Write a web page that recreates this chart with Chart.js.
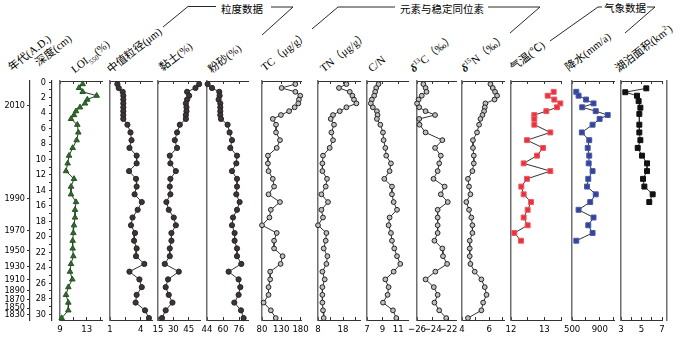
<!DOCTYPE html>
<html lang="zh">
<head>
<meta charset="UTF-8">
<title>沉积物多指标综合图</title>
<script src="https://cdn.jsdelivr.net/npm/chart.js@4"></script>
<style>
body { margin: 0; background: #fff; }
#wrap { position: relative; width: 700px; height: 339px; overflow: hidden; background: #fff; }
#wrap canvas { position: absolute; }
.hdr { position: absolute; white-space: nowrap; font-family: "Liberation Serif", "Noto Sans CJK SC", serif; font-size: 11px; line-height: 12px; transform-origin: 0 100%; transform: rotate(-38deg); color: #000; }
.hdr sub, .hdr sup { font-size: 7px; line-height: 0; }
.grp { position: absolute; white-space: nowrap; font-family: "Noto Sans CJK SC", sans-serif; font-size: 10.5px; line-height: 12px; color: #000; }
#lines { position: absolute; left: 0; top: 0; }
</style>
</head>
<body>
<div id="wrap">
  <svg id="lines" width="700" height="339">
    <g fill="none" stroke="#111" stroke-width="0.9">
      <polyline points="163,27 188,6.5 216,6.5"/>
      <polyline points="271,7 293,7 262,35"/>
      <polyline points="312,29 338,7 395,7"/>
      <polyline points="488,7 540,7 510,33"/>
      <polyline points="550,41 598,7 602,7"/>
      <polyline points="647,7 655,7 625,33"/>
    </g>
  </svg>
  <div class="grp" style="left:221px;top:3px">粒度数据</div>
  <div class="grp" style="left:400px;top:3px">元素与稳定同位素</div>
  <div class="grp" style="left:604px;top:2px">气象数据</div>

  <div class="hdr" style="left:13px;top:61px">年代(A.D.)</div>
  <div class="hdr" style="left:40px;top:56px">深度(cm)</div>
  <div class="hdr" style="left:76px;top:63px">LOI<sub>550</sub>(%)</div>
  <div class="hdr" style="left:112px;top:63px">中值粒径(μm)</div>
  <div class="hdr" style="left:164px;top:61px">黏土(%)</div>
  <div class="hdr" style="left:213px;top:63px">粉砂(%)</div>
  <div class="hdr" style="left:266px;top:61px">TC（μg/g）</div>
  <div class="hdr" style="left:325px;top:62px">TN（μg/g）</div>
  <div class="hdr" style="left:373px;top:62px">C/N</div>
  <div class="hdr" style="left:415px;top:62px"><i><b>δ</b></i><sup>13</sup>C（‰）</div>
  <div class="hdr" style="left:466px;top:62px"><i><b>δ</b></i><sup>15</sup>N（‰）</div>
  <div class="hdr" style="left:515px;top:61px">气温(℃)</div>
  <div class="hdr" style="left:570px;top:61px">降水(mm/a)</div>
  <div class="hdr" style="left:620px;top:62px">湖泊面积(km<sup>2</sup>)</div>
</div>

<script>
// 采样深度 (cm)
const depth = [0.25, 0.75, 1.25, 1.75, 2.25, 2.75, 3.25, 3.75, 4.25, 4.75,
  5.5, 6.5, 7.5, 8.5, 9.5, 10.5, 11.5, 12.5, 13.5, 14.5, 15.5, 16.5, 17.5, 18.5,
  19.5, 20.5, 21.5, 22.5, 23.5, 24.5, 25.5, 26.5, 27.5, 28.5, 29.5, 30.5];

// 气象数据对应深度
const metDepth = [1.25, 1.75, 2.25, 2.75, 3.25, 3.75, 4.25, 4.75, 5.5, 6.5, 7.5, 8.5,
  9.5, 10.5, 11.5, 12.5, 13.5, 14.5, 15.5, 16.5, 17.5, 18.5, 19.5, 20.5];
const lakeDepth = [0.8, 1.3, 1.75, 2.45, 3.3, 4.1, 5.5, 6.5, 7.5, 8.5, 9.5, 10.5,
  11.5, 12.5, 13.5, 14.5, 15.5];

// 年代标尺
const yearLabels = ['2010', '1990', '1970', '1950', '1930', '1910', '1890', '1870', '1850', '1830'];
const yearDepth = [3.0, 15.0, 19.15, 21.75, 23.8, 25.55, 26.9, 28.15, 29.2, 30.0];
const depthTicks = [0, 1, 2, 3, 4, 5, 6, 7, 8, 9, 10, 11, 12, 13, 14, 15, 16, 17, 18, 19,
  20, 21, 22, 23, 24, 25, 26, 27, 28, 29, 30];

// 指标数据
const loi = [12.4, 11.85, 12.4, 14.5, 13.1, 12.75, 12.0, 11.4, 11.1, 10.65,
  11.6, 11.75, 11.5, 10.9, 10.35, 10.15, 9.9, 11.1, 10.65, 10.65, 11.4, 11.25, 11.25,
  11.1, 11.0, 10.9, 10.9, 11.0, 10.65, 10.5, 10.85, 10.25, 9.9, 10.25, 10.25, 9.25];
const median = [1.72, 1.85, 2.24, 2.3, 2.3, 2.3, 2.3, 2.3, 2.3, 2.3,
  2.7, 3.0, 3.1, 2.9, 3.6, 3.6, 2.86, 3.54, 3.6, 3.4, 4.1, 3.7, 3.2, 3.05, 3.44, 3.35,
  3.6, 3.54, 4.35, 2.9, 3.87, 4.1, 3.6, 3.5, 4.42, 4.8];
const clay = [55.2, 51.6, 43.4, 45.4, 43.4, 42.2, 42.8, 42.8, 42.2, 42.2,
  36.3, 33.6, 31.4, 33.6, 26.5, 27.1, 32.4, 27.1, 26.5, 27.1, 23.2, 25.5, 30.4, 32.4,
  28.1, 28.1, 26.5, 26.5, 21.6, 35.3, 24.8, 22.5, 25.5, 29.1, 22.5, 18.9];
const silt = [44.6, 49, 56.3, 56.6, 55.6, 57.3, 57.3, 57.3, 57.3, 58,
  64.6, 66.6, 69, 67.3, 74, 73.3, 69, 74, 74, 73.3, 76.6, 74, 70, 69, 71.6, 71.6,
  74, 74, 78.3, 65.6, 75.6, 77.3, 75.6, 71.3, 78, 80.6];
const tc = [166.5, 130.9, 166.5, 179.2, 175.8, 174.1, 164.7, 150.3, 129.1, 108,
  116.4, 116.4, 126.6, 118.2, 95.3, 95.3, 96.9, 108, 111.3, 96.9, 126.6, 102.9, 99.3,
  80, 118.2, 111.3, 111.3, 133.4, 128.3, 101.2, 101.2, 96.9, 96.9, 84.2, 102.9, 115.6];
const tn = [19.36, 16.4, 20.7, 21.76, 22.4, 23.36, 19.36, 16.7, 14.0, 13.08,
  14.4, 13.36, 14.0, 12.68, 10.0, 9.76, 9.76, 11.6, 11.08, 9.36, 12.0, 9.36, 10.0,
  8.0, 11.36, 11.08, 10.28, 11.76, 11.36, 9.76, 10.68, 9.76, 9.76, 9.76, 10.0, 10.28];
const cn = [8.48, 8.18, 8.05, 7.92, 7.62, 7.49, 7.75, 8.27, 8.35, 8.27,
  8.71, 9.05, 9.13, 9.35, 9.47, 10.07, 9.9, 9.22, 10.2, 10.2, 10.42, 10.85, 9.9, 9.77,
  10.07, 10.2, 10.5, 10.85, 11.27, 10.42, 9.35, 9.77, 9.64, 9.05, 10.33, 10.76];
const d13c = [-25.19, -24.91, -24.79, -25.39, -25.8, -26.0, -25.72, -24.91, -23.7, -25.72,
  -25.68, -24.91, -22.77, -23.7, -22.97, -23.17, -23.37, -23.9, -22.48, -22.97, -22.08,
  -23.37, -23.37, -23.37, -23.37, -23.78, -22.77, -22.69, -22.16, -23.66, -24.91, -23.86,
  -23.37, -23.78, -23.17, -22.28];
const d15n = [6.10, 6.27, 6.44, 6.59, 6.40, 5.73, 5.68, 5.63, 5.51, 5.36,
  5.26, 5.11, 4.81, 4.81, 4.87, 4.87, 4.77, 4.44, 4.52, 4.62, 4.32, 4.52, 4.69, 4.77,
  4.77, 4.57, 4.57, 4.57, 4.62, 4.94, 5.43, 5.68, 5.81, 5.56, 5.43, 4.44];
const temp = [13.28, 13.10, 13.30, 13.48, 13.38, 13.06, 12.70, 12.70, 12.70, 13.18,
  12.48, 12.96, 12.78, 12.38, 13.18, 12.48, 12.31, 12.38, 12.60, 12.50, 12.38, 12.50,
  12.10, 12.30];
const precip = [560, 593, 701, 809, 645, 841, 1014, 897, 795, 640, 747, 725, 747, 739,
  795, 733, 715, 841, 761, 593, 809, 733, 795, 560];
const lake = [5.47, 3.42, 4.56, 4.72, 4.89, 4.79, 4.79, 4.79, 4.89, 4.63, 5.05, 5.54,
  5.54, 5.15, 5.28, 6.09, 5.76];

// 坐标刻度
const loiTicks = [9, 11, 13, 15], loiLabels = [9, 13];
const medianTicks = [1, 2.5, 4], medianLabels = [1, 4];
const clayTicks = [15, 30, 45], clayLabels = [15, 30, 45];
const siltTicks = [44, 60, 76], siltLabels = [44, 60, 76];
const tcTicks = [80, 130, 180], tcLabels = [80, 130, 180];
const tnTicks = [8, 13, 18, 23], tnLabels = [8, 18];
const cnTicks = [7, 9, 11], cnLabels = [7, 9, 11];
const d13cTicks = [-26, -24, -22], d13cLabels = [-26, -24, -22];
const d15nTicks = [4, 5, 6, 7], d15nLabels = [4, 6];
const tempTicks = [12, 12.5, 13, 13.5], tempLabels = [12, 13];
const precipTicks = [500, 700, 900, 1100], precipLabels = [500, 900];
const lakeTicks = [3, 4, 5, 6, 7], lakeLabels = [3, 5, 7];

const DMIN = -0.15, DMAX = 30.75;
const tickFont = { family: '"Liberation Sans Narrow", "DejaVu Sans Condensed", "Liberation Sans", Arial, sans-serif', size: 9.5 };
const wrap = document.getElementById('wrap');

const markers = {
  tri:   { pointStyle: 'triangle', pointRadius: 3.2, pointBackgroundColor: '#2f6b2b', pointBorderColor: '#24561f' },
  dot:   { pointStyle: 'circle', pointRadius: 2.6, pointBackgroundColor: '#3b3535', pointBorderColor: '#2a2424' },
  ring:  { pointStyle: 'circle', pointRadius: 2.4, pointBackgroundColor: '#bfbfbf', pointBorderColor: '#222' },
  red:   { pointStyle: 'rect', pointRadius: 3.5, pointBackgroundColor: '#e8323e', pointBorderColor: '#ef5a63' },
  blue:  { pointStyle: 'rect', pointRadius: 3.5, pointBackgroundColor: '#34449a', pointBorderColor: '#4a59aa' },
  black: { pointStyle: 'rect', pointRadius: 3.5, pointBackgroundColor: '#111', pointBorderColor: '#111' }
};

const panels = [
  { vals: loi,    d: depth,     left: 60,  right: 102, min: 9,   max: 15.3,   ticks: loiTicks,    labels: loiLabels,    mk: 'tri' },
  { vals: median, d: depth,     left: 110, right: 152, min: 1,   max: 5.1,    ticks: medianTicks, labels: medianLabels, mk: 'dot' },
  { vals: clay,   d: depth,     left: 158, right: 200, min: 15,  max: 56,     ticks: clayTicks,   labels: clayLabels,   mk: 'dot' },
  { vals: silt,   d: depth,     left: 207, right: 248, min: 44,  max: 85,     ticks: siltTicks,   labels: siltLabels,   mk: 'dot' },
  { vals: tc,     d: depth,     left: 262, right: 302, min: 80,  max: 182,    ticks: tcTicks,     labels: tcLabels,     mk: 'ring' },
  { vals: tn,     d: depth,     left: 318, right: 360, min: 8,   max: 24.8,   ticks: tnTicks,     labels: tnLabels,     mk: 'ring' },
  { vals: cn,     d: depth,     left: 367, right: 408, min: 7,   max: 12.26,  ticks: cnTicks,     labels: cnLabels,     mk: 'ring' },
  { vals: d13c,   d: depth,     left: 415, right: 456, min: -26, max: -21.03, ticks: d13cTicks,   labels: d13cLabels,   mk: 'ring' },
  { vals: d15n,   d: depth,     left: 462, right: 504, min: 4,   max: 7.1,    ticks: d15nTicks,   labels: d15nLabels,   mk: 'ring' },
  { vals: temp,   d: metDepth,  left: 511, right: 561, min: 12,  max: 13.5,   ticks: tempTicks,   labels: tempLabels,   mk: 'red' },
  { vals: precip, d: metDepth,  left: 571, right: 614, min: 500, max: 1105,   ticks: precipTicks, labels: precipLabels, mk: 'blue' },
  { vals: lake,   d: lakeDepth, left: 621, right: 662, min: 3,   max: 7,      ticks: lakeTicks,   labels: lakeLabels,   mk: 'black', edge: true }
];

function fmt(v) {
  return v < 0 ? '\u2212' + Math.abs(v) : String(v);
}

function hiddenY(pos, weight, width, border) {
  return {
    axis: 'y', position: pos, weight: weight, min: DMIN, max: DMAX, reverse: true,
    afterFit: s => { s.width = width; },
    grid: { display: false }, ticks: { display: false },
    border: border ? { display: true, color: '#6e6e6e', width: 1.5 } : { display: false }
  };
}

function makePanel(p) {
  const pad = 14;
  const extra = p.edge ? 5 : 0;
  const cv = document.createElement('canvas');
  cv.width = (p.right - p.left) + pad * 2 + extra;
  cv.height = 269;
  cv.style.left = (p.left - pad) + 'px';
  cv.style.top = '70px';
  wrap.appendChild(cv);

  const setTicks = s => { s.ticks = p.ticks.map(v => ({ value: v })); };
  const scales = {
    x: {
      type: 'linear', position: 'bottom', min: p.min, max: p.max,
      afterBuildTicks: setTicks,
      afterFit: s => { s.height = 19; },
      grid: { drawOnChartArea: false, tickLength: -3, color: '#333' },
      border: { color: '#333', width: 1 },
      ticks: {
        autoSkip: false, maxRotation: 0, padding: 7, font: tickFont, color: '#000',
        callback: v => p.labels.includes(v) ? fmt(v) : ''
      }
    },
    xTop: {
      type: 'linear', axis: 'x', position: 'top', min: p.min, max: p.max,
      afterBuildTicks: setTicks,
      afterFit: s => { s.height = 11; },
      grid: { drawOnChartArea: false, tickLength: -3, color: '#333' },
      border: { color: '#333', width: 1 },
      ticks: { display: false }
    },
    y: hiddenY('left', 0, 0, true)
  };
  if (p.edge) {
    scales.yGap = hiddenY('right', 0, extra, false);
    scales.yEdge = hiddenY('right', 1, 0, true);
  }

  new Chart(cv, {
    type: 'scatter',
    data: {
      datasets: [Object.assign({
        data: p.vals.map((v, i) => ({ x: v, y: p.d[i] })),
        showLine: true,
        borderColor: '#333',
        borderWidth: 1,
        pointBorderWidth: 1,
        tension: 0,
        clip: false
      }, markers[p.mk])]
    },
    options: {
      responsive: false,
      animation: false,
      layout: { padding: { left: pad, right: pad, top: 0, bottom: 0 } },
      plugins: { legend: { display: false }, tooltip: { enabled: false } },
      scales: scales
    }
  });
}

// 年代与深度坐标轴
function makeDepthAxis() {
  const cv = document.createElement('canvas');
  cv.width = 58;
  cv.height = 269;
  cv.style.left = '0px';
  cv.style.top = '70px';
  wrap.appendChild(cv);
  const axisFont = { family: tickFont.family, size: 9 };
  new Chart(cv, {
    type: 'scatter',
    data: { datasets: [] },
    options: {
      responsive: false,
      animation: false,
      layout: { padding: { left: 0, right: 0, top: 11, bottom: 19 } },
      plugins: { legend: { display: false }, tooltip: { enabled: false } },
      scales: {
        x: { display: false, min: 0, max: 1 },
        yYear: {
          axis: 'y', position: 'left', weight: 1, min: DMIN, max: DMAX, reverse: true,
          afterFit: s => { s.width = 30; },
          afterBuildTicks: s => { s.ticks = yearDepth.map(v => ({ value: v })); },
          grid: { drawOnChartArea: false, tickLength: 3, color: '#333' },
          border: { color: '#333', width: 1.2 },
          ticks: { autoSkip: false, padding: 2, font: axisFont, color: '#000', callback: (v, i) => yearLabels[i] }
        },
        yDepth: {
          axis: 'y', position: 'left', weight: 0, min: DMIN, max: DMAX, reverse: true,
          afterFit: s => { s.width = 22; },
          afterBuildTicks: s => { s.ticks = depthTicks.map(v => ({ value: v })); },
          grid: { drawOnChartArea: false, tickLength: 3, color: '#333' },
          border: { color: '#333', width: 1.2 },
          ticks: { autoSkip: false, padding: 3, font: axisFont, color: '#000', callback: v => v % 2 === 0 ? String(v) : '' }
        }
      }
    }
  });
}

makeDepthAxis();
panels.forEach(makePanel);
</script>
</body>
</html>
